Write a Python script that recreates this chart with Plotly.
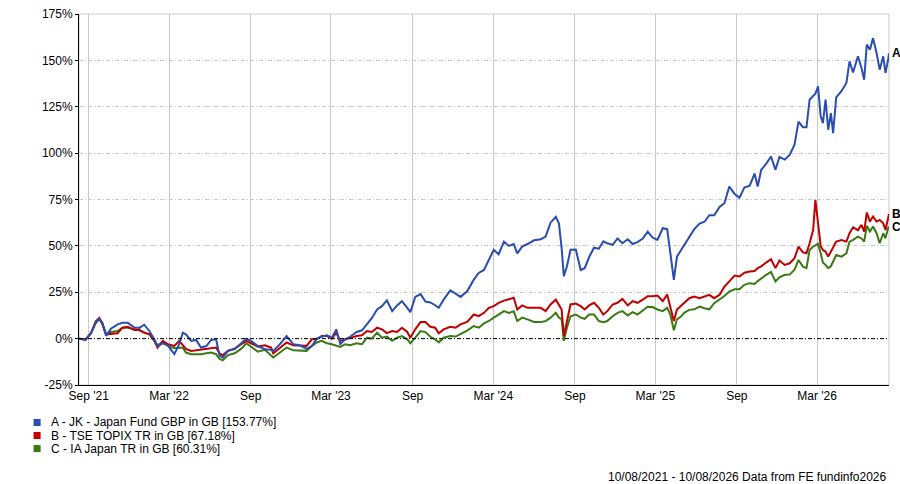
import plotly.graph_objects as go

# ---- datos (rentabilidad acumulada en %) ----
dates = [
    "2021-08-10", "2021-08-25", "2021-09-06", "2021-09-17", "2021-09-25", "2021-10-02",
    "2021-10-10", "2021-10-21", "2021-11-05", "2021-11-16", "2021-11-28", "2021-12-13",
    "2021-12-24", "2022-01-04", "2022-01-16", "2022-01-27", "2022-02-03", "2022-02-15",
    "2022-02-26", "2022-03-13", "2022-03-24", "2022-04-01", "2022-04-08", "2022-04-20",
    "2022-05-01", "2022-05-12", "2022-05-24", "2022-06-04", "2022-06-15", "2022-06-23",
    "2022-06-30", "2022-07-12", "2022-07-27", "2022-08-11", "2022-08-22", "2022-09-02",
    "2022-09-17", "2022-10-03", "2022-10-17",
    "2022-10-22", "2022-11-06", "2022-11-21", "2022-12-06", "2022-12-21", "2023-01-05",
    "2023-01-17", "2023-01-28", "2023-02-08", "2023-02-20", "2023-03-03", "2023-03-13",
    "2023-03-22", "2023-04-02", "2023-04-13", "2023-04-28", "2023-05-10", "2023-05-21",
    "2023-06-01", "2023-06-13", "2023-06-24", "2023-07-05", "2023-07-17", "2023-07-28",
    "2023-08-08", "2023-08-20", "2023-08-27", "2023-09-07", "2023-09-19", "2023-09-30",
    "2023-10-11", "2023-10-22", "2023-10-30", "2023-11-10", "2023-11-25", "2023-12-07",
    "2023-12-18", "2024-01-02",
    "2024-01-17", "2024-01-28", "2024-02-09", "2024-02-20", "2024-03-02", "2024-03-13",
    "2024-03-25", "2024-04-05", "2024-04-16", "2024-04-24", "2024-05-05", "2024-05-17",
    "2024-06-01", "2024-06-16", "2024-06-27", "2024-07-08", "2024-07-20", "2024-07-27",
    "2024-08-02", "2024-08-07", "2024-08-14", "2024-08-22", "2024-09-03", "2024-09-14",
    "2024-09-23", "2024-10-03", "2024-10-14", "2024-10-25", "2024-11-04", "2024-11-13",
    "2024-11-25", "2024-12-06", "2024-12-17", "2024-12-29", "2025-01-09", "2025-01-20",
    "2025-02-01", "2025-02-12", "2025-02-23", "2025-03-06", "2025-03-18", "2025-03-28",
    "2025-04-04", "2025-04-12", "2025-04-19", "2025-04-28",
    "2025-05-06", "2025-05-17", "2025-05-28", "2025-06-09", "2025-06-20", "2025-07-01",
    "2025-07-12", "2025-07-24", "2025-08-04", "2025-08-15", "2025-08-27", "2025-09-07",
    "2025-09-18", "2025-09-30", "2025-10-11", "2025-10-18", "2025-10-26", "2025-11-06",
    "2025-11-17", "2025-11-27", "2025-12-06", "2025-12-18", "2025-12-29", "2026-01-09",
    "2026-01-18", "2026-01-28", "2026-02-05", "2026-02-12", "2026-02-20", "2026-02-25",
    "2026-03-03", "2026-03-09", "2026-03-14", "2026-03-20", "2026-03-26", "2026-04-01",
    "2026-04-06", "2026-04-13", "2026-04-25", "2026-05-06", "2026-05-13", "2026-05-21",
    "2026-06-01", "2026-06-09", "2026-06-15", "2026-06-21", "2026-06-28", "2026-07-05",
    "2026-07-13", "2026-07-20", "2026-07-28", "2026-08-02", "2026-08-08", "2026-08-10",
]

fund_a = [
    0, -0.7, 3, 8.5, 10.7, 8.5, 1.5, 5.4, 7.7, 8.5, 8.5, 6, 5.8, 7.5, 4, -0.4, -4, -2.5,
    -3.6, -8.4, -3, 3.2, 2.3, -1.2, -0.7, -4.8, -4, -0.7, -0.4, -9.3, -10.2, -6.6, -5.7,
    -2.5, 0, -1.2, -4, -5.7, -6,
    -6.6, -3, 1.4, -3, -3.6, -5.5, -4, 0, 1, 1.8, 0.5, 5, -3, -0.4, 1, 3.6, 4.5, 8,
    11, 15.7, 17.5, 20.7, 14.8, 17.9, 20.2, 16.6, 14.3, 22.5, 24, 20, 19.5, 18, 16.6,
    21, 26, 24.3, 22.5, 25.5,
    31.8, 35.4, 37, 42.5, 47.9, 45.5, 52.3, 50, 51, 46, 49.6, 51, 53, 53.6, 55, 62.5,
    65.7, 62, 48.8, 33.6, 39, 47.9, 48, 37, 38, 44, 49, 48.5, 52.5, 51.4, 50.5, 54,
    51.4, 53.6, 51, 52, 54, 57.7, 54.5, 53.2, 59.5, 59, 45, 31.7, 44.2, 47.8,
    51, 55, 59, 62, 63, 66.5, 66.5, 71, 73, 82, 78, 76, 81.5, 82.5, 89, 82, 91, 94.2,
    98.2, 91, 98, 96.5, 99, 104.5, 117, 114, 114, 128.8, 130.6, 132, 136, 119.8, 116.2,
    128.8, 112.6, 121.6, 110.8, 130, 133.5, 137.8, 149.5, 143.5, 152.2, 145.9, 139.6,
    158.5, 155.8, 162, 154, 145, 152.2, 143.2, 150.4, 153.77,
]

topix_b = [
    0, -0.4, 2.9, 9.5, 11.2, 7.7, 2.3, 2.7, 2.9, 5.9, 6.4, 4.6, 4.6, 3.2, 2.3, -1.2,
    -4.8, -1.2, -3, -3.9, -1.2, -3.5, -5.5, -6.6, -6.3, -6, -5.7, -5.2, -4.8, -8, -9,
    -6.5, -5.4, -3, -1.2, -2.5, -4.3, -3.6, -4.8,
    -7.9, -4.8, -2.1, -3.6, -3.9, -3.9, -0.4, -0.4, 1.4, 1.4, 0, 3.2, -1.2, -0.4, 0.5,
    1.4, 1.8, 4.1, 3.6, 5.9, 5, 3, 4.1, 3.6, 5.9, 3.6, 0.5, 5, 8.9, 8.9, 6.4, 5.9,
    2.9, 5, 6.4, 5.9, 7.7, 9,
    13, 12.1, 13.9, 16.6, 17.5, 19.3, 20.5, 21.4, 22, 15.7, 17.9, 16.6, 16.6, 16.6,
    14.8, 18.4, 21, 17.9, 15.7, 1.4, 9.5, 18.4, 18.9, 17.5, 15.7, 17.9, 19.3, 16.6,
    13, 14.8, 18.4, 19.3, 21.4, 17.9, 20.2, 19.3, 21, 22.9, 22.9, 23.2, 20.2, 23.8,
    17, 9.5, 15.7, 17.5,
    19.1, 21.8, 22.7, 21.8, 22.7, 23.6, 21.8, 23.6, 28, 31, 34, 33.5, 35.5, 36.2, 36.5,
    38, 39, 41, 42.8, 38, 42.1, 39.7, 40.6, 43.3, 49.6, 46.5, 46, 51.4, 58.6, 74.8, 62,
    50, 47.8, 46.9, 44.2, 47, 49.6, 52.3, 53.2, 52.3, 56.8, 60, 58.5, 61.3, 57.7, 68,
    63.1, 65.8, 63.1, 64, 62.2, 58.6, 64.9, 67.18,
]

ia_c = [
    0, -0.4, 2.9, 8.9, 10.4, 7.7, 2.3, 3.6, 4.1, 5.9, 5.9, 5, 4.6, 3.2, 2.3, -1.2,
    -3.6, -1.8, -3.9, -5.2, -5.2, -4.8, -7.5, -8.4, -8.4, -8.4, -7.9, -7.5, -8.4, -11,
    -11.7, -8.9, -7.9, -5.4, -2.5, -4.3, -7, -6, -8.9,
    -10.2, -7.5, -4.8, -6.3, -6.3, -6.6, -3.9, -2.1, -1.2, -2.5, -3, -4, -4.5, -3,
    -3.6, -2.5, -3, 0.5, 0, 3.2, 0.5, 1.1, -1.2, 0.5, 1.4, -0.4, -2.5, 0.5, 4.1, 3.5,
    1, -0.4, -2, 0.5, 1.4, 1.1, 2.3, 4.3,
    6.8, 5.9, 8.2, 9.5, 11.3, 13, 14.8, 13.9, 14.8, 9.5, 11.3, 10.4, 9, 8.9, 9.5, 11.3,
    13.9, 11.3, 10.5, -1.2, 5.9, 12.1, 13, 11.3, 10.7, 13, 13, 9.5, 8.9, 9.5, 12.1,
    13.9, 14.8, 12.5, 14.3, 13, 15, 17.2, 17, 15.7, 14.8, 16.6, 13, 4.5, 10.4, 11.9,
    14, 15.5, 15.8, 17.3, 16.4, 15.8, 19.1, 20.9, 23, 25.4, 26.6, 26.6, 29, 29.9, 29.5,
    31, 32.5, 34.4, 36, 30.8, 33, 34.4, 34.5, 37.1, 42.4, 38.8, 38, 47.8, 49.6, 50.5,
    51.1, 46, 41, 39.7, 38, 39, 41.5, 45.1, 44.2, 46, 52.3, 53.2, 55, 54, 52.3, 60.8,
    57.7, 60.4, 56.8, 51.4, 56.8, 54.1, 59.5, 60.31,
]

series_names = ["JK - Japan Fund GBP in GB", "TSE TOPIX TR in GB", "IA Japan TR in GB"]
series_letters = ["A", "B", "C"]
series_colors = ["#2A4DB0", "#C00000", "#3A7A12"]

tick_dates = ["2021-09-01", "2022-03-01", "2022-09-01", "2023-03-01", "2023-09-01",
              "2024-03-01", "2024-09-01", "2025-03-01", "2025-09-01", "2026-03-01"]
tick_labels = ["Sep '21", "Mar '22", "Sep", "Mar '23", "Sep",
               "Mar '24", "Sep", "Mar '25", "Sep", "Mar '26"]
y_ticks = [-25, 0, 25, 50, 75, 100, 125, 150, 175]

footer = "10/08/2021 - 10/08/2026 Data from FE fundinfo2026"

FONT = "Liberation Sans, Arial, sans-serif"
DASHDOT = "4px,2px,1px,2px"

fig = go.Figure()
all_series = [fund_a, topix_b, ia_c]
# dibujar C primero para que A quede encima
for vals, color in reversed(list(zip(all_series, series_colors))):
    fig.add_trace(go.Scatter(x=dates, y=vals, mode="lines",
                             line=dict(color=color, width=2),
                             showlegend=False, hoverinfo="skip"))

annotations = []
shapes = []
# etiquetas A/B/C al final de cada serie
for vals, letter in zip(all_series, series_letters):
    annotations.append(dict(x=dates[-1], y=vals[-1], xref="x", yref="y",
                            text=f"<b>{letter}</b>", showarrow=False,
                            xanchor="left", yanchor="middle", xshift=1,
                            font=dict(family=FONT, size=12, color="black")))

# leyenda manual con cuadrados
for i, (name, letter, color, vals) in enumerate(zip(series_names, series_letters,
                                                     series_colors, all_series)):
    y_row = -0.101 - i * 0.0352
    shapes.append(dict(type="rect", xref="paper", yref="paper",
                       x0=-0.0561, x1=-0.0474, y0=y_row - 0.0095, y1=y_row + 0.0095,
                       fillcolor=color, line=dict(width=0)))
    annotations.append(dict(x=-0.0365, y=y_row, xref="paper", yref="paper",
                            text=f"{letter} - {name} [{vals[-1]:.2f}%]",
                            showarrow=False, xanchor="left", yanchor="middle",
                            font=dict(family=FONT, size=12, color="black")))

annotations.append(dict(x=1.0, y=-0.248, xref="paper", yref="paper", text=footer,
                        showarrow=False, xanchor="right", yanchor="middle",
                        font=dict(family=FONT, size=12, color="black")))

# borde gris del area de trazado y linea del 0% punteada
shapes.append(dict(type="rect", xref="paper", yref="paper", x0=0, x1=1, y0=0, y1=1,
                   line=dict(color="#C8C8C8", width=1), layer="below"))
shapes.append(dict(type="line", xref="paper", yref="y", x0=0, x1=1, y0=0, y1=0,
                   line=dict(color="black", width=1, dash=DASHDOT), layer="above"))

fig.update_layout(
    width=900, height=484,
    margin=dict(l=79, r=11, t=14, b=99, autoexpand=False),
    paper_bgcolor="white", plot_bgcolor="white",
    font=dict(family=FONT, size=12, color="black"),
    annotations=annotations, shapes=shapes,
    showlegend=False,
)
fig.update_xaxes(range=["2021-08-10", "2026-08-10"], tickvals=tick_dates,
                 ticktext=tick_labels, showgrid=True, gridcolor="#C8C8C8",
                 gridwidth=1, showline=True, linecolor="black", linewidth=1,
                 ticks="", tickfont=dict(size=12), zeroline=False, automargin=False)
fig.update_yaxes(range=[-25, 175], tickvals=y_ticks,
                 ticktext=[f"{v}%" for v in y_ticks], showgrid=True,
                 gridcolor="#C8C8C8", griddash=DASHDOT, gridwidth=1,
                 showline=True, linecolor="black", linewidth=1,
                 ticks="outside", ticklen=3, tickcolor="black",
                 tickfont=dict(size=12), zeroline=False, automargin=False)

fig.write_html("out.html", config={"displayModeBar": False},
               post_script="document.body.style.margin='0';"
                           "document.body.style.overflow='hidden';")
